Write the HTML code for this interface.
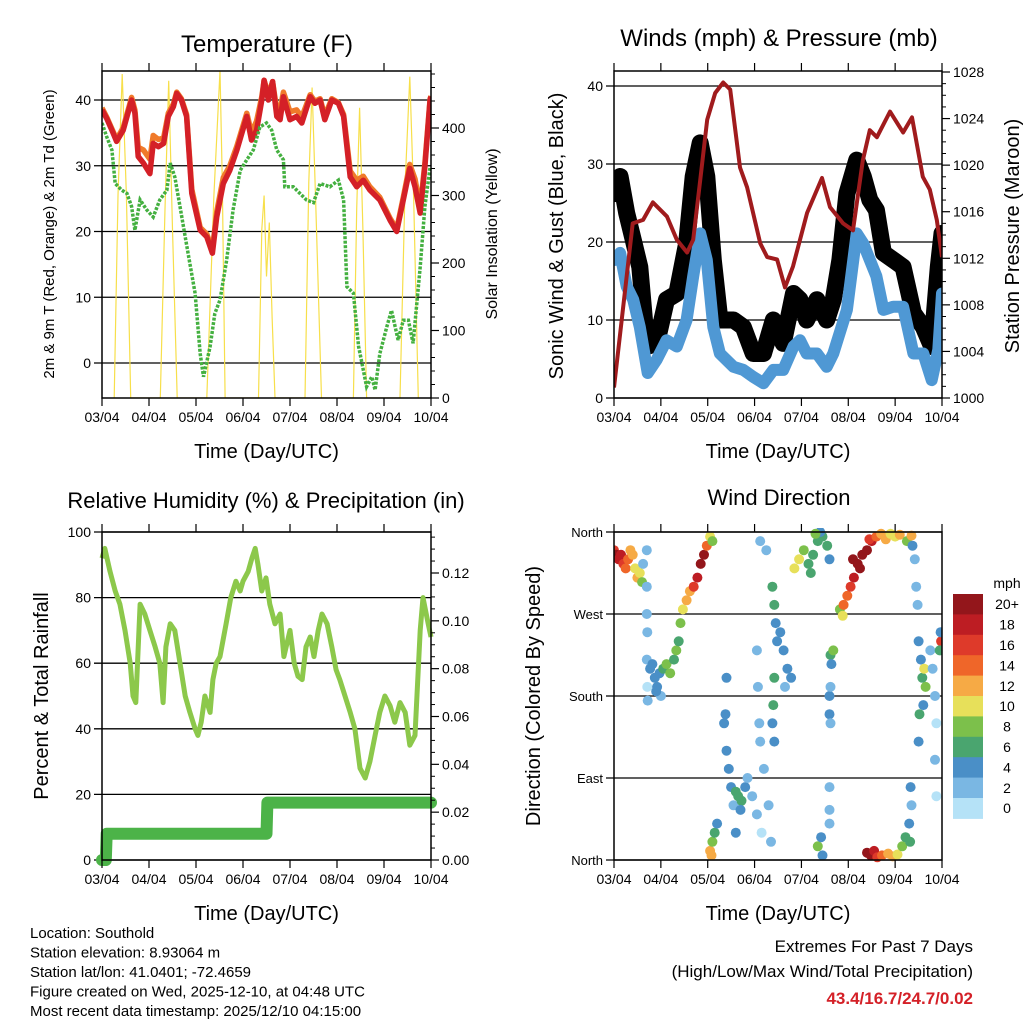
<!DOCTYPE html>
<html><head><meta charset="utf-8"><style>
html,body{margin:0;padding:0;background:#fff}
svg{display:block;font-family:"Liberation Sans",sans-serif}
</style></head><body>
<svg id="c" width="1024" height="1024" viewBox="0 0 1024 1024" xmlns="http://www.w3.org/2000/svg">
<g id="g"></g>
</svg>
<script>
// ---------- DATA ----------
const dayTicks = ["03/04","04/04","05/04","06/04","07/04","08/04","09/04","10/04"];
// Temperature panel
const tDays = [0,0.10,0.21,0.31,0.45,0.63,0.70,0.77,0.88,1.02,1.09,1.20,1.31,1.41,1.52,1.59,1.69,1.80,1.91,2.09,2.23,2.35,2.44,2.58,2.72,2.87,3.08,3.18,3.29,3.40,3.45,3.54,3.63,3.72,3.79,3.86,4.00,4.14,4.25,4.43,4.53,4.64,4.74,4.89,5.03,5.14,5.28,5.42,5.56,5.70,5.91,6.13,6.27,6.41,6.55,6.66,6.77,6.87,6.98,7.0];
const temp2m = [38.5,37.2,35.4,33.7,35.4,40.0,38.0,31.4,30.4,28.8,33.4,32.9,33.4,37.5,39.0,41.0,40.0,37.5,25.8,20.2,19.2,16.7,22.2,27.3,29.3,32.4,37.5,33.9,35.4,40.0,43.0,40.0,42.8,37.5,37.0,40.5,37.0,37.5,36.5,40.5,39.5,40.0,37.0,40.0,39.5,37.5,28.3,26.8,27.8,26.3,24.8,21.7,20.0,24.8,29.6,26.8,22.8,29.9,40.0,40.5];
const temp9m = [38.8,37.4,35.6,34.0,35.8,40.4,38.5,32.8,32.4,31.0,34.6,34.0,34.2,38.0,39.4,41.2,40.2,37.8,26.4,20.6,19.6,17.2,23.0,28.2,30.0,33.0,38.0,35.0,36.8,40.5,43.0,40.8,42.8,38.5,38.5,41.2,38.2,38.5,37.4,40.8,39.8,40.2,37.6,40.2,39.6,37.8,29.2,27.8,28.4,26.8,25.2,22.0,20.4,25.2,30.2,28.0,23.6,30.4,40.2,40.6];
const tdDays = [0,0.10,0.21,0.28,0.42,0.53,0.63,0.70,0.81,0.95,1.09,1.23,1.38,1.45,1.55,1.66,1.77,1.87,1.98,2.09,2.16,2.30,2.40,2.51,2.65,2.79,2.94,3.08,3.22,3.36,3.50,3.61,3.72,3.86,3.89,4.07,4.21,4.35,4.50,4.64,4.85,5.03,5.14,5.21,5.35,5.46,5.52,5.63,5.74,5.81,5.91,6.06,6.16,6.30,6.41,6.52,6.62,6.77,6.87,6.98];
const dew2m = [36.5,34.4,32.4,27.3,26.3,25.8,23.8,20.2,24.8,23.3,22.2,24.8,26.3,30.4,28.3,23.8,19.2,15.1,10.6,1.4,-2.1,2.5,7.5,9.6,15.6,23.3,29.3,30.9,32.4,35.9,36.5,35.4,32.4,30.9,26.8,26.8,25.8,24.8,24.4,27.3,26.8,27.8,24.8,11.6,10.6,2.5,0.4,-3.6,-2.1,-4.1,1.4,5.5,8.0,3.5,6.5,6.5,3.0,14.6,23.8,29.8];
const solarDays = [0.26,0.34,0.43,0.52,0.61, 1.24,1.34,1.42,1.50,1.60, 2.23,2.38,2.51,2.56,2.62, 3.33,3.40,3.45,3.50,3.56,3.62,3.68, 4.32,4.40,4.47,4.55,4.67, 5.35,5.42,5.48,5.55,5.63, 6.34,6.45,6.55,6.63,6.73];
const solarVal  = [0,300,480,300,0, 0,280,470,250,0, 0,300,485,320,0, 0,250,300,180,260,120,0, 0,320,460,280,0, 0,280,430,250,0, 0,320,476,300,0];
// Wind panel
const gustDays = [0.02,0.13,0.27,0.41,0.55,0.70,0.91,1.12,1.34,1.55,1.69,1.84,1.98,2.12,2.26,2.55,2.76,2.97,3.19,3.40,3.61,3.83,3.97,4.11,4.33,4.54,4.68,4.82,4.97,5.18,5.32,5.46,5.60,5.75,5.96,6.17,6.39,6.60,6.78,6.92,7.0];
const gust = [26.2,28.4,23.7,20.3,16.8,6.6,7.0,12.6,13.4,19.8,28.4,32.7,28.4,17.7,10.0,10.0,9.1,5.7,5.7,10.0,7.0,13.4,12.6,10.0,12.6,10.0,12.6,17.7,26.2,30.5,28.4,25.4,24.1,18.6,17.7,16.8,10.9,9.1,6.6,16.8,21.1];
const windDays = [0.02,0.13,0.27,0.41,0.55,0.72,0.91,1.12,1.34,1.55,1.69,1.84,1.98,2.12,2.26,2.55,2.76,2.97,3.19,3.40,3.61,3.83,3.97,4.11,4.33,4.54,4.68,4.97,5.18,5.32,5.46,5.60,5.75,5.96,6.17,6.39,6.60,6.78,6.92,7.0];
const wind = [17.7,18.6,14.3,12.6,9.1,3.2,4.9,7.4,6.6,10.0,15.6,21.1,17.7,9.1,5.7,4.0,3.6,2.7,1.9,3.6,3.6,6.6,7.4,5.7,5.7,4.0,5.7,11.3,21.1,19.8,17.7,15.6,11.3,11.7,11.7,5.7,5.7,2.3,6.2,13.4];
const presDays = [0,0.19,0.40,0.62,0.83,1.13,1.34,1.56,1.69,1.84,1.99,2.16,2.33,2.48,2.69,2.84,3.12,3.27,3.48,3.65,3.82,4.12,4.44,4.61,4.89,5.10,5.31,5.46,5.61,5.89,6.17,6.36,6.59,6.74,6.89,7.0];
const pressure = [1000.9,1007.6,1015.0,1015.3,1016.8,1015.6,1013.6,1012.5,1013.6,1018.7,1023.9,1026.2,1027.1,1026.5,1019.8,1018.1,1013.3,1012.1,1011.9,1009.5,1011.3,1015.9,1018.9,1016.4,1015.0,1014.4,1020.4,1023.0,1022.4,1024.6,1022.8,1024.1,1019.0,1017.9,1015.3,1012.1];
// RH panel
const rhDays = [0,0.06,0.17,0.28,0.38,0.49,0.60,0.66,0.72,0.81,0.91,1.02,1.13,1.23,1.30,1.36,1.45,1.55,1.66,1.77,1.87,1.98,2.04,2.11,2.19,2.30,2.36,2.43,2.51,2.64,2.74,2.85,2.94,3.00,3.11,3.19,3.26,3.32,3.40,3.49,3.57,3.68,3.79,3.87,4.00,4.09,4.17,4.26,4.34,4.43,4.51,4.60,4.68,4.79,4.89,4.98,5.06,5.17,5.28,5.38,5.49,5.60,5.70,5.81,5.91,6.02,6.13,6.23,6.34,6.45,6.55,6.66,6.77,6.83,6.94,7.0];
const rh = [92,95,88,82,78,70,60,50,48,78,75,70,65,60,48,65,72,70,60,50,45,40,38,42,50,45,55,60,62,72,80,85,82,85,88,92,95,90,82,86,78,72,75,62,70,60,56,55,65,68,62,70,75,72,65,58,55,50,45,40,28,25,30,38,45,50,47,42,48,45,35,38,70,80,72,68];
const precipDays = [0,0.08,0.10,3.50,3.52,7.0];
const precip = [0,0,0.011,0.011,0.024,0.024];
// Wind direction panel
const wdDays = [0,0.05,0.1,0.15,0.2,0.25,0.3,0.35,0.4,0.45,0.5,0.55,0.6,0.62,0.70,0.70,0.70,0.71,0.70,0.71,0.72,0.77,0.82,0.87,0.92,0.97,1.05,1.12,1.2,1.28,1.33,1.38,1.0,0.9,1.42,1.47,1.55,1.62,1.7,1.78,1.85,1.92,1.98,2.05,2.1,2.05,2.1,2.15,2.2,2.08,2.35,2.4,2.45,2.5,2.55,2.6,2.4,2.38,2.6,2.65,2.72,2.8,2.7,2.85,2.95,3.05,3.15,3.2,3.3,3.35,3.05,3.07,3.1,3.12,3.12,3.25,3.38,3.42,3.45,3.48,3.42,3.4,3.38,3.42,3.55,3.62,3.7,3.78,3.65,3.85,3.95,4.05,4.15,4.25,4.35,4.45,4.55,4.6,4.2,4.4,4.3,4.6,4.6,4.62,4.62,4.6,4.6,4.6,4.62,4.68,4.64,4.35,4.45,4.42,4.82,4.9,4.98,5.05,5.12,4.88,5.1,5.2,5.3,5.4,5.5,5.25,5.45,5.6,5.7,5.8,5.9,6.0,6.1,6.25,6.35,5.4,5.48,5.55,5.62,5.72,5.85,5.95,6.05,6.15,6.22,6.3,6.35,6.32,6.33,6.37,6.42,6.45,6.48,6.5,6.55,6.58,6.62,6.65,6.6,6.52,6.5,6.75,6.8,6.85,6.88,6.98,6.95,6.97,6.85,6.88];
const wdDir = [340,335,330,335,325,320,330,340,335,320,310,315,305,325,340,300,270,250,220,190,175,210,215,200,190,205,210,215,205,220,230,240,180,185,260,275,285,295,300,310,325,335,345,355,350,10,20,30,40,5,150,120,100,80,60,30,200,160,75,70,65,80,55,90,70,50,30,100,60,20,230,190,150,130,350,340,300,280,260,240,200,170,150,130,250,230,210,200,190,320,330,340,325,335,350,355,345,330,315,360,358,180,160,190,150,80,55,40,225,230,215,15,5,25,275,280,290,300,310,268,330,325,335,340,350,320,352,355,358,352,358,355,357,350,356,8,5,10,3,5,7,4,6,15,25,40,60,20,80,345,330,300,280,240,220,200,210,190,170,160,130,230,210,180,150,240,230,250,110,70];
const wdSpeed = [17,20,19,18,16,15,14,13,12,11,13,10,8,3,3,3,2,2,3,1,2,4,5,4,5,4,7,8,8,7,8,7,3,4,8,10,12,13,17,18,20,21,14,10,8,12,8,6,4,13,4,4,4,4,3,4,4,4,6,7,6,4,5,2,2,2,1,3,3,2,2,2,3,3,2,2,6,6,4,4,6,7,5,4,4,4,4,4,3,10,11,8,6,6,7,7,6,5,6,4,8,4,4,2,3,2,2,2,6,8,4,8,4,4,9,14,15,17,18,10,20,22,21,20,19,22,16,14,12,13,11,10,12,9,12,20,21,18,17,15,13,12,10,8,6,4,3,7,4,4,3,2,2,4,5,6,10,8,5,6,4,3,2,2,1,16,6,4,2,1];
const speedLabels = ["0","2","4","6","8","10","12","14","16","18","20+"];
const speedColors = ["#b5e2f7","#7ab7e3","#4a8fc7","#4aa56f","#7cc04b","#e7e05a","#f6aa45","#ef6629","#de3a2a","#bd1d23","#93161b"];

// ---------- HELPERS ----------
const NS="http://www.w3.org/2000/svg";
const root=document.getElementById('g');
function el(tag,attrs,parent){const e=document.createElementNS(NS,tag);for(const k in attrs)e.setAttribute(k,attrs[k]);(parent||root).appendChild(e);return e;}
function txt(s,x,y,size,anchor,parent,extra){const t=el('text',Object.assign({x:x,y:y,'font-size':size,'text-anchor':anchor||'middle',fill:'#000'},extra||{}),parent);t.textContent=s;return t;}
function lin(d0,d1,r0,r1){return v=>r0+(v-d0)*(r1-r0)/(d1-d0);}
function path(xs,ys,fx,fy){let d='';for(let i=0;i<xs.length;i++){d+=(i?'L':'M')+fx(xs[i]).toFixed(1)+','+fy(ys[i]).toFixed(1);}return d;}

function panelFrame(P,name){
  const g=el('g',{});
  
  
  return g;
}
function drawBox(g,L,T,R,B){
  el('rect',{x:L,y:T,width:R-L,height:B-T,fill:'none',stroke:'#000','stroke-width':1.5},g);
}
function xAxis(g,L,R,T,B,title){
  const fx=lin(0,7,L,R);
  const ax=el('g',{},g);
  
  
  for(let i=0;i<dayTicks.length;i++){
    const x=fx(i);
    el('line',{x1:x,y1:B,x2:x,y2:B+8,stroke:'#000','stroke-width':1.2},ax);
    el('line',{x1:x,y1:T,x2:x,y2:T-8,stroke:'#000','stroke-width':1.2},ax);
    const t=txt(dayTicks[i],x,B+24,14,'middle',ax);
    
    
  }
  const tt=txt(title,(L+R)/2,B+60,20,'middle',ax);
  
  
  return fx;
}
function yLeft(g,L,R,fy,vals,labels,grid,size){
  const ax=el('g',{},g);
  
  
  for(let i=0;i<vals.length;i++){
    const y=fy(vals[i]);
    el('line',{x1:L-8,y1:y,x2:grid?R:L,y2:y,stroke:'#000','stroke-width':1.3},ax);
    const t=txt(labels[i],L-11,y+5,size||14,'end',ax);
    
    
  }
}
function yRight(g,R,fy,vals,labels,minor){
  const ax=el('g',{},g);
  
  
  for(let i=0;i<vals.length;i++){
    const y=fy(vals[i]);
    el('line',{x1:R,y1:y,x2:R+8,y2:y,stroke:'#000','stroke-width':1.2},ax);
    const t=txt(labels[i],R+11,y+5,14,'start',ax);
    
    
  }
  if(minor){for(const v of minor){const y=fy(v);el('line',{x1:R,y1:y,x2:R+4,y2:y,stroke:'#000','stroke-width':1},ax);}}
}
function vtitle(s,x,y,size,name,g){
  const t=txt(s,0,0,size,'middle',g,{transform:`translate(${x},${y}) rotate(-90)`});
  
  
}

// ---------- PANEL 1: Temperature ----------
(function(){
  const L=102,R=431,T=71,B=398;
  const g=panelFrame(null,'temperature-panel');
  const fx=lin(0,7,L,R), fy=lin(40,0,100,363), fs=lin(0,400,398,128);
  const clip=el('clipPath',{id:'c1'},g);el('rect',{x:L,y:T,width:R-L,height:B-T},clip);
  yLeft(g,L,R,fy,[40,30,20,10,0],["40","30","20","10","0"],true);
  const s=el('path',{d:path(solarDays,solarVal,fx,fs),fill:'none',stroke:'#f7df4a','stroke-width':1.2,'clip-path':'url(#c1)'},g);
  
  const o=el('path',{d:path(tDays,temp9m,fx,fy),fill:'none',stroke:'#f07a2a','stroke-width':5.5,'stroke-linejoin':'round','clip-path':'url(#c1)'},g);
  
  const r=el('path',{d:path(tDays,temp2m,fx,fy),fill:'none',stroke:'#d42027','stroke-width':5.5,'stroke-linejoin':'round','clip-path':'url(#c1)'},g);
  
  const d=el('path',{d:path(tdDays,dew2m,fx,fy),fill:'none',stroke:'#44b040','stroke-width':3.5,'stroke-dasharray':'3 1.5','clip-path':'url(#c1)'},g);
  
  drawBox(g,L,T,R,B);
  xAxis(g,L,R,T,B,'Time (Day/UTC)');
  yRight(g,R,fs,[0,100,200,300,400],["0","100","200","300","400"],[20,40,60,80,120,140,160,180,220,240,260,280,320,340,360,380,420,440,460,480]);
  const tt=txt('Temperature (F)',267,52,24,'middle',g);
  vtitle('2m & 9m T (Red, Orange) & 2m Td (Green)',54,234,15,'temperature-y-title',g);
  vtitle('Solar Insolation (Yellow)',497,234,16,'solar-y-title',g);
})();

// ---------- PANEL 2: Winds ----------
(function(){
  const L=614,R=942,T=71,B=398;
  const g=panelFrame(null,'winds-panel');
  const fx=lin(0,7,L,R), fy=lin(0,40,398,86), fp=lin(1000,1028,398,72);
  const clip=el('clipPath',{id:'c2'},g);el('rect',{x:L,y:T,width:R-L,height:B-T},clip);
  yLeft(g,L,R,fy,[40,30,20,10,0],["40","30","20","10","0"],true);
  const k=el('path',{d:path(gustDays,gust,fx,fy),fill:'none',stroke:'#000','stroke-width':17,'stroke-linejoin':'round','stroke-linecap':'round','clip-path':'url(#c2)'},g);
  
  const b=el('path',{d:path(windDays,wind,fx,fy),fill:'none',stroke:'#4f98d4','stroke-width':12,'stroke-linejoin':'round','stroke-linecap':'round','clip-path':'url(#c2)'},g);
  
  const p=el('path',{d:path(presDays,pressure,fx,fp),fill:'none',stroke:'#a01b1d','stroke-width':4,'stroke-linejoin':'round','clip-path':'url(#c2)'},g);
  
  drawBox(g,L,T,R,B);
  xAxis(g,L,R,T,B,'Time (Day/UTC)');
  const minor=[];for(let v=1001;v<1028;v++){if(v%4)minor.push(v);}
  yRight(g,R,fp,[1000,1004,1008,1012,1016,1020,1024,1028],["1000","1004","1008","1012","1016","1020","1024","1028"],minor);
  const tt=txt('Winds (mph) & Pressure (mb)',779,46,24,'middle',g);
  vtitle('Sonic Wind & Gust (Blue, Black)',563,236,20,'wind-y-title',g);
  vtitle('Station Pressure (Maroon)',1019,236,20,'pressure-y-title',g);
})();

// ---------- PANEL 3: RH ----------
(function(){
  const L=102,R=431,T=532,B=860;
  const g=panelFrame(null,'humidity-panel');
  const fx=lin(0,7,L,R), fy=lin(0,100,860,532), fp=lin(0,0.12,860,573);
  const clip=el('clipPath',{id:'c3'},g);el('rect',{x:L-6,y:T,width:R-L+12,height:B-T+6},clip);
  yLeft(g,L,R,fy,[100,80,60,40,20,0],["100","80","60","40","20","0"],true);
  const h=el('path',{d:path(rhDays,rh,fx,fy),fill:'none',stroke:'#8cc84b','stroke-width':5,'stroke-linejoin':'round','clip-path':'url(#c3)'},g);
  
  const p=el('path',{d:path(precipDays,precip,fx,fp),fill:'none',stroke:'#4cb348','stroke-width':12,'stroke-linejoin':'round','stroke-linecap':'round','clip-path':'url(#c3)'},g);
  
  drawBox(g,L,T,R,B);
  xAxis(g,L,R,T,B,'Time (Day/UTC)');
  const minor=[];for(let i=1;i<=27;i++){if(i%4)minor.push(i*0.005);}
  yRight(g,R,fp,[0,0.02,0.04,0.06,0.08,0.10,0.12],["0.00","0.02","0.04","0.06","0.08","0.10","0.12"],minor);
  const tt=txt('Relative Humidity (%) & Precipitation (in)',266,508,22,'middle',g);
  vtitle('Percent & Total Rainfall',48,696,20,'humidity-y-title',g);
})();

// ---------- PANEL 4: Wind Direction ----------
(function(){
  const L=614,R=942,T=532,B=860;
  const g=panelFrame(null,'wind-direction-panel');
  const fx=lin(0,7,L,R), fy=lin(0,360,860,532);
  const clip=el('clipPath',{id:'c4'},g);el('rect',{x:L,y:T-4,width:R-L,height:B-T+8},clip);
  yLeft(g,L,R,fy,[360,270,180,90,0],["North","West","South","East","North"],true,13);
  const pts=el('g',{'clip-path':'url(#c4)'},g);
  
  for(let i=0;i<wdDays.length;i++){
    const ci=Math.min(10,Math.floor(wdSpeed[i]/2));
    const c=el('circle',{cx:fx(wdDays[i]).toFixed(1),cy:fy(wdDir[i]).toFixed(1),r:5,fill:speedColors[ci]},pts);
    
    
  }
  drawBox(g,L,T,R,B);
  xAxis(g,L,R,T,B,'Time (Day/UTC)');
  const tt=txt('Wind Direction',779,505,22,'middle',g);
  vtitle('Direction (Colored By Speed)',540,696,20,'direction-y-title',g);
  // colorbar
  const cb=el('g',{},g);
  
  const top=594,h=20.4;
  for(let i=0;i<speedColors.length;i++){
    const idx=speedColors.length-1-i;
    const r=el('rect',{x:953,y:top+i*h,width:30,height:h+0.5,fill:speedColors[idx]},cb);
    
    const t=txt(speedLabels[idx],1007,top+i*h+h/2+5,14,'middle',cb);
    
  }
  const m=txt('mph',1007,588,14,'middle',cb);
})();

// ---------- FOOTER ----------
(function(){
  const g=el('g',{});
  
  const lines=["Location: Southold","Station elevation: 8.93064 m","Station lat/lon: 41.0401; -72.4659","Figure created on Wed, 2025-12-10, at 04:48 UTC","Most recent data timestamp: 2025/12/10 04:15:00"];
  for(let i=0;i<lines.length;i++){const t=txt(lines[i],30,938+i*19.5,15,'start',g);}
  const e=el('g',{});
  
  const a=txt('Extremes For Past 7 Days',973,952,17,'end',e);
  const b=txt('(High/Low/Max Wind/Total Precipitation)',973,977,17,'end',e);
  const c=txt('43.4/16.7/24.7/0.02',973,1004,17,'end',e,{fill:'#d42027','font-weight':'bold'});
})();
</script>
</body></html>
